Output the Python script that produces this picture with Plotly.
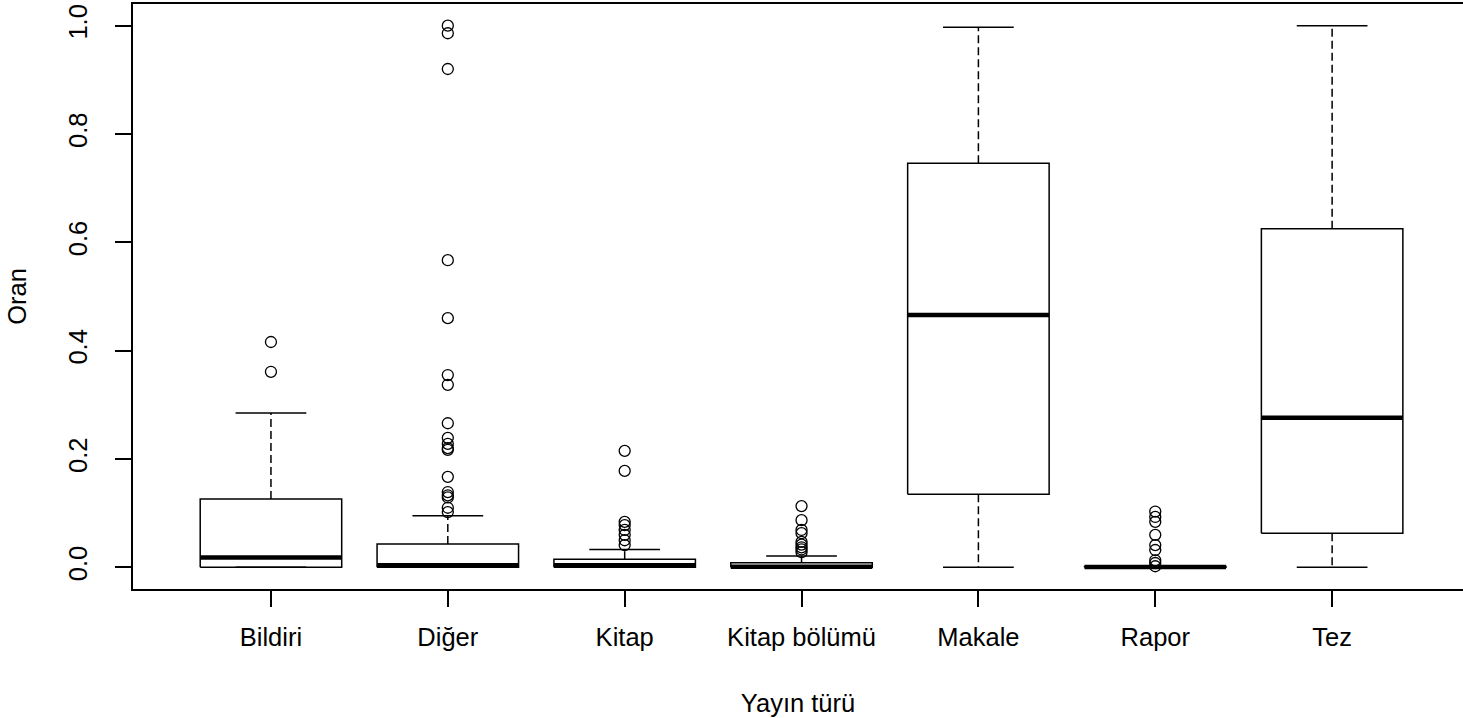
import plotly.graph_objects as go

categories = ["Bildiri", "Diğer", "Kitap", "Kitap bölümü", "Makale", "Rapor", "Tez"]
lower = [0.0, 0.0, 0.0, 0.0, 0.0, 0.0, 0.0]
q1 = [0.0, 0.0, 0.0, 0.0, 0.135, 0.0, 0.063]
median = [0.018, 0.004, 0.004, 0.001, 0.466, 0.0005, 0.276]
q3 = [0.126, 0.043, 0.015, 0.0085, 0.746, 0.0015, 0.625]
upper = [0.285, 0.095, 0.033, 0.021, 0.997, 0.003, 1.0]
outliers = [
    [0.416, 0.361],
    [1.0, 0.986, 0.92, 0.567, 0.46, 0.355, 0.337, 0.266, 0.239, 0.228, 0.22, 0.217,
     0.167, 0.139, 0.133, 0.129, 0.11, 0.102],
    [0.215, 0.178, 0.084, 0.078, 0.069, 0.06, 0.05, 0.041],
    [0.113, 0.087, 0.069, 0.063, 0.047, 0.042, 0.037, 0.033, 0.028],
    [],
    [0.103, 0.093, 0.084, 0.06, 0.041, 0.032, 0.013, 0.008, 0.002],
    [],
]
yticks = [0.0, 0.2, 0.4, 0.6, 0.8, 1.0]
ytick_labels = ["0.0", "0.2", "0.4", "0.6", "0.8", "1.0"]

BOX_W = 0.4   # half box width
CAP_W = 0.2   # half staple width
LINE = dict(color="black", width=1.5)

fig = go.Figure()
for i, cat in enumerate(categories):
    x = i + 1
    fig.add_trace(go.Scatter(
        x=[x - BOX_W, x + BOX_W, x + BOX_W, x - BOX_W, x - BOX_W],
        y=[q1[i], q1[i], q3[i], q3[i], q1[i]],
        mode="lines", line=LINE, hoverinfo="skip", showlegend=False))
    fig.add_trace(go.Scatter(
        x=[x, x, None, x, x],
        y=[q3[i], upper[i], None, q1[i], lower[i]],
        mode="lines", line=dict(color="black", width=1.5, dash="8px,4px"),
        hoverinfo="skip", showlegend=False))
    fig.add_trace(go.Scatter(
        x=[x - CAP_W, x + CAP_W, None, x - CAP_W, x + CAP_W],
        y=[upper[i], upper[i], None, lower[i], lower[i]],
        mode="lines", line=LINE, hoverinfo="skip", showlegend=False))
    fig.add_trace(go.Scatter(
        x=[x - BOX_W, x + BOX_W], y=[median[i], median[i]],
        mode="lines", line=dict(color="black", width=4.5),
        hoverinfo="skip", showlegend=False))
    if outliers[i]:
        fig.add_trace(go.Scatter(
            x=[x] * len(outliers[i]), y=outliers[i], mode="markers",
            marker=dict(symbol="circle-open", size=11, color="black",
                        line=dict(width=1.3, color="black")),
            showlegend=False))

FONT = dict(family="Liberation Sans, Arial, sans-serif", size=25.5, color="black")

fig.update_layout(
    width=1463, height=718,
    margin=dict(l=133, r=0, t=4, b=129),
    plot_bgcolor="white", paper_bgcolor="white",
    font=FONT,
    xaxis=dict(
        range=[0.22, 7.74], tickmode="array",
        tickvals=list(range(1, len(categories) + 1)), ticktext=categories,
        ticks="outside", ticklen=16, tickwidth=1.5, tickcolor="black",
        ticklabelstandoff=9,
        showline=True, linecolor="black", linewidth=1.5, mirror=True,
        showgrid=False, zeroline=False, automargin=False,
        title=dict(text="Yayın türü", font=FONT, standoff=44),
    ),
    yaxis=dict(
        range=[-0.04, 1.04], tickmode="array",
        tickvals=yticks, ticktext=ytick_labels, tickangle=-90,
        ticks="outside", ticklen=16, tickwidth=1.5, tickcolor="black",
        ticklabelstandoff=18,
        showline=True, linecolor="black", linewidth=1.5, mirror=False,
        showgrid=False, zeroline=False, automargin=False,
        title=dict(text="Oran", font=FONT, standoff=30),
    ),
)

fig.write_html("out.html", config={"displayModeBar": False},
               post_script="document.body.style.margin='0';document.body.style.overflow='hidden';")
